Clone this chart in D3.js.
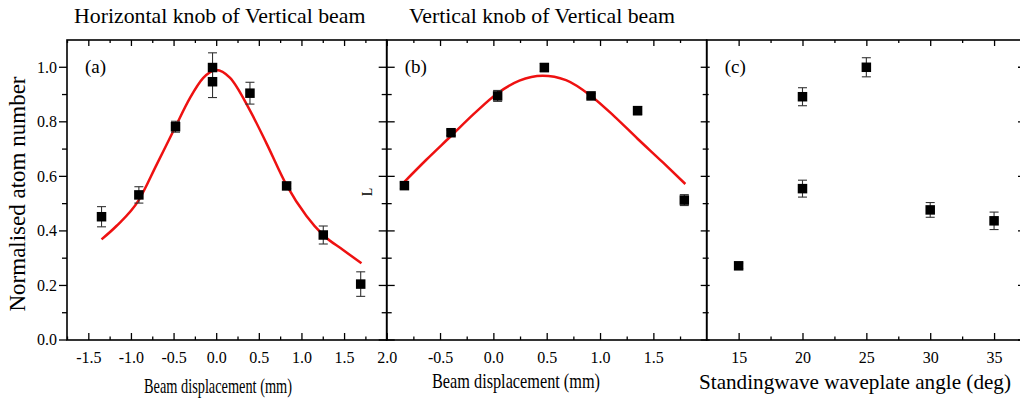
<!DOCTYPE html>
<html>
<head>
<meta charset="utf-8">
<script src="https://cdn.jsdelivr.net/npm/d3@7"></script>
<style>
  body { margin: 0; background: #fff; }
  svg { display: block; }
  svg text { font-family: "Liberation Serif", "Times New Roman", serif; fill: #000; }
</style>
</head>
<body>
<div id="container"></div>
<script>
const WIDTH = 1020;
const HEIGHT = 409;
const TOP = 40, BOTTOM = 340;

// panel (a) - horizontal knob
const aX = [-1.345, -0.907, -0.477, -0.043, -0.043, 0.396, 0.826, 1.256, 1.695];
const aY = [0.452, 0.532, 0.782, 0.999, 0.947, 0.905, 0.565, 0.385, 0.205];
const aErr = [0.037, 0.03, 0.02, 0.054, 0.058, 0.04, 0.01, 0.033, 0.045];
const aFitX = [-1.345, -1.17, -0.908, -0.70, -0.478, -0.31, -0.154, 0.003, 0.16, 0.394, 0.59, 0.825, 1.059, 1.254, 1.489, 1.704];
const aFitY = [0.369, 0.418, 0.513, 0.642, 0.782, 0.886, 0.960, 0.990, 0.962, 0.843, 0.721, 0.568, 0.455, 0.385, 0.330, 0.281];

// panel (b) - vertical knob
const bX = [-0.834, -0.397, 0.04, 0.478, 0.916, 1.352, 1.79];
const bY = [0.566, 0.760, 0.895, 0.999, 0.895, 0.841, 0.513];
const bErr = [0.01, 0.01, 0.02, 0.015, 0.008, 0.015, 0.02];
const bFitX = [-0.834, -0.631, -0.397, -0.178, 0.04, 0.244, 0.462, 0.681, 0.916, 1.134, 1.352, 1.587, 1.80];
const bFitY = [0.580, 0.660, 0.748, 0.831, 0.905, 0.951, 0.969, 0.953, 0.895, 0.820, 0.738, 0.652, 0.572];

// panel (c) - waveplate angle
const cX = [15, 20, 20, 25, 30, 35];
const cY = [0.272, 0.892, 0.555, 1.0, 0.477, 0.437];
const cErr = [0.01, 0.033, 0.031, 0.035, 0.027, 0.032];

const yMajor = [0, 0.2, 0.4, 0.6, 0.8, 1.0];
const yMinor = [0.1, 0.3, 0.5, 0.7, 0.9];

const svg = d3.select('#container')
  .append('svg')
    .attr('width', WIDTH)
    .attr('height', HEIGHT);

const y = d3.scaleLinear().domain([0, 1.1]).range([BOTTOM, TOP]);

const panels = [
  { left: 67, right: 386.7, domain: [-1.75, 2.0],
    major: [-1.5, -1.0, -0.5, 0.0, 0.5, 1.0, 1.5, 2.0],
    minor: [-1.75, -1.25, -0.75, -0.25, 0.25, 0.75, 1.25, 1.75],
    fmt: d => d.toFixed(1), xs: aX, ys: aY, err: aErr, fitX: aFitX, fitY: aFitY,
    tag: '(a)', title: 'Horizontal knob of Vertical beam', titleX: 74,
    xlabel: 'Beam displacement (mm)', xlabelX: 218, xlabelY: 393, xlabelLen: 148 },
  { left: 386.7, right: 706.7, domain: [-1.0, 2.0],
    major: [-0.5, 0.0, 0.5, 1.0, 1.5],
    minor: [-0.75, -0.25, 0.25, 0.75, 1.25, 1.75],
    fmt: d => d.toFixed(1), xs: bX, ys: bY, err: bErr, fitX: bFitX, fitY: bFitY,
    tag: '(b)', title: 'Vertical knob of Vertical beam', titleX: 409,
    xlabel: 'Beam displacement (mm)', xlabelX: 516, xlabelY: 388, xlabelLen: 168 },
  { left: 706.7, right: 1026, domain: [12.5, 37.5],
    major: [15, 20, 25, 30, 35],
    minor: [17.5, 22.5, 27.5, 32.5],
    fmt: d => String(d), xs: cX, ys: cY, err: cErr, fitX: null, fitY: null,
    tag: '(c)', title: null,
    xlabel: 'Standingwave waveplate angle (deg)', xlabelX: 855, xlabelY: 389, xlabelLen: 312 }
];

panels.forEach(p => {
  const x = d3.scaleLinear().domain(p.domain).range([p.left, p.right]);
  const g = svg.append('g');

  // bottom ticks (inward) with labels
  g.append('g')
    .attr('transform', `translate(0, ${BOTTOM})`)
    .call(d3.axisBottom(x).tickValues(p.major).tickSize(-7).tickPadding(12).tickFormat(p.fmt))
    .call(a => a.attr('font-family', null).attr('font-size', 16))
    .call(a => a.select('.domain').remove());
  g.append('g')
    .attr('transform', `translate(0, ${BOTTOM})`)
    .call(d3.axisBottom(x).tickValues(p.minor).tickSize(-3.5).tickFormat(''))
    .call(a => a.select('.domain').remove());

  // top ticks (inward)
  g.append('g')
    .attr('transform', `translate(0, ${TOP})`)
    .call(d3.axisTop(x).tickValues(p.major).tickSize(-6).tickFormat(''))
    .call(a => a.select('.domain').remove());
  g.append('g')
    .attr('transform', `translate(0, ${TOP})`)
    .call(d3.axisTop(x).tickValues(p.minor).tickSize(-3).tickFormat(''))
    .call(a => a.select('.domain').remove());

  g.selectAll('.tick line').attr('stroke', '#000').attr('stroke-width', 1.3);

  // frame
  g.append('rect')
    .attr('x', p.left).attr('y', TOP)
    .attr('width', p.right - p.left).attr('height', BOTTOM - TOP)
    .attr('fill', 'none').attr('stroke', '#000').attr('stroke-width', 1.6);

  // fit curve
  if (p.fitX) {
    const fit = p.fitX.map((v, k) => [v, p.fitY[k]]);
    g.append('path')
      .datum(fit)
      .attr('fill', 'none')
      .attr('stroke', '#ee1111')
      .attr('stroke-width', 2.5)
      .attr('d', d3.line().x(d => x(d[0])).y(d => y(d[1])).curve(d3.curveMonotoneX));
  }

  // error bars
  const pts = p.xs.map((v, k) => ({ x: v, y: p.ys[k], e: p.err[k] }));
  const eb = g.selectAll('.eb').data(pts).enter().append('g').attr('class', 'eb')
    .attr('stroke', '#333').attr('stroke-width', 1.1);
  eb.append('line')
    .attr('x1', d => x(d.x)).attr('x2', d => x(d.x))
    .attr('y1', d => y(d.y - d.e)).attr('y2', d => y(d.y + d.e));
  eb.append('line')
    .attr('x1', d => x(d.x) - 4.5).attr('x2', d => x(d.x) + 4.5)
    .attr('y1', d => y(d.y + d.e)).attr('y2', d => y(d.y + d.e));
  eb.append('line')
    .attr('x1', d => x(d.x) - 4.5).attr('x2', d => x(d.x) + 4.5)
    .attr('y1', d => y(d.y - d.e)).attr('y2', d => y(d.y - d.e));

  // square markers
  g.selectAll('.pt').data(pts).enter().append('rect')
    .attr('class', 'pt')
    .attr('x', d => x(d.x) - 4.75).attr('y', d => y(d.y) - 4.75)
    .attr('width', 9.5).attr('height', 9.5)
    .attr('fill', '#000');

  // panel tag
  g.append('text')
    .attr('x', p.left + 18).attr('y', 73)
    .attr('font-size', 19)
    .text(p.tag);

  if (p.title) {
    svg.append('text')
      .attr('x', p.titleX).attr('y', 23)
      .attr('font-size', 21.8)
      .text(p.title);
  }

  svg.append('text')
    .attr('x', p.xlabelX).attr('y', p.xlabelY)
    .attr('text-anchor', 'middle')
    .attr('font-size', 21)
    .attr('textLength', p.xlabelLen)
    .attr('lengthAdjust', 'spacingAndGlyphs')
    .text(p.xlabel);
});

// y ticks: left of panel (a) outward, separators crossing
const yTicks = (xPos, leftLen, rightLen, values) => {
  svg.append('g').selectAll('line').data(values).enter().append('line')
    .attr('x1', xPos - leftLen).attr('x2', xPos + rightLen)
    .attr('y1', d => y(d)).attr('y2', d => y(d))
    .attr('stroke', '#000').attr('stroke-width', 1.3);
};
yTicks(67, 8, 0, yMajor);
yTicks(67, 5, 0, yMinor);
yTicks(386.7, 8, 8, yMajor);
yTicks(386.7, 5, 5, yMinor);
yTicks(706.7, 6, 3, yMajor);
yTicks(706.7, 4, 2, yMinor);
yTicks(1026, 8, 8, yMajor);
yTicks(1026, 5, 5, yMinor);

svg.append('g').selectAll('text').data(yMajor).enter().append('text')
  .attr('x', 57).attr('y', d => y(d))
  .attr('dy', '0.34em')
  .attr('text-anchor', 'end')
  .attr('font-size', 16)
  .text(d => d.toFixed(1));

svg.append('text')
  .attr('transform', 'translate(25, 194) rotate(-90)')
  .attr('text-anchor', 'middle')
  .attr('font-size', 23)
  .text('Normalised atom number');

svg.append('text')
  .attr('transform', 'translate(372, 192) rotate(-90)')
  .attr('text-anchor', 'middle')
  .attr('font-size', 14)
  .text('L');
</script>
</body>
</html>
